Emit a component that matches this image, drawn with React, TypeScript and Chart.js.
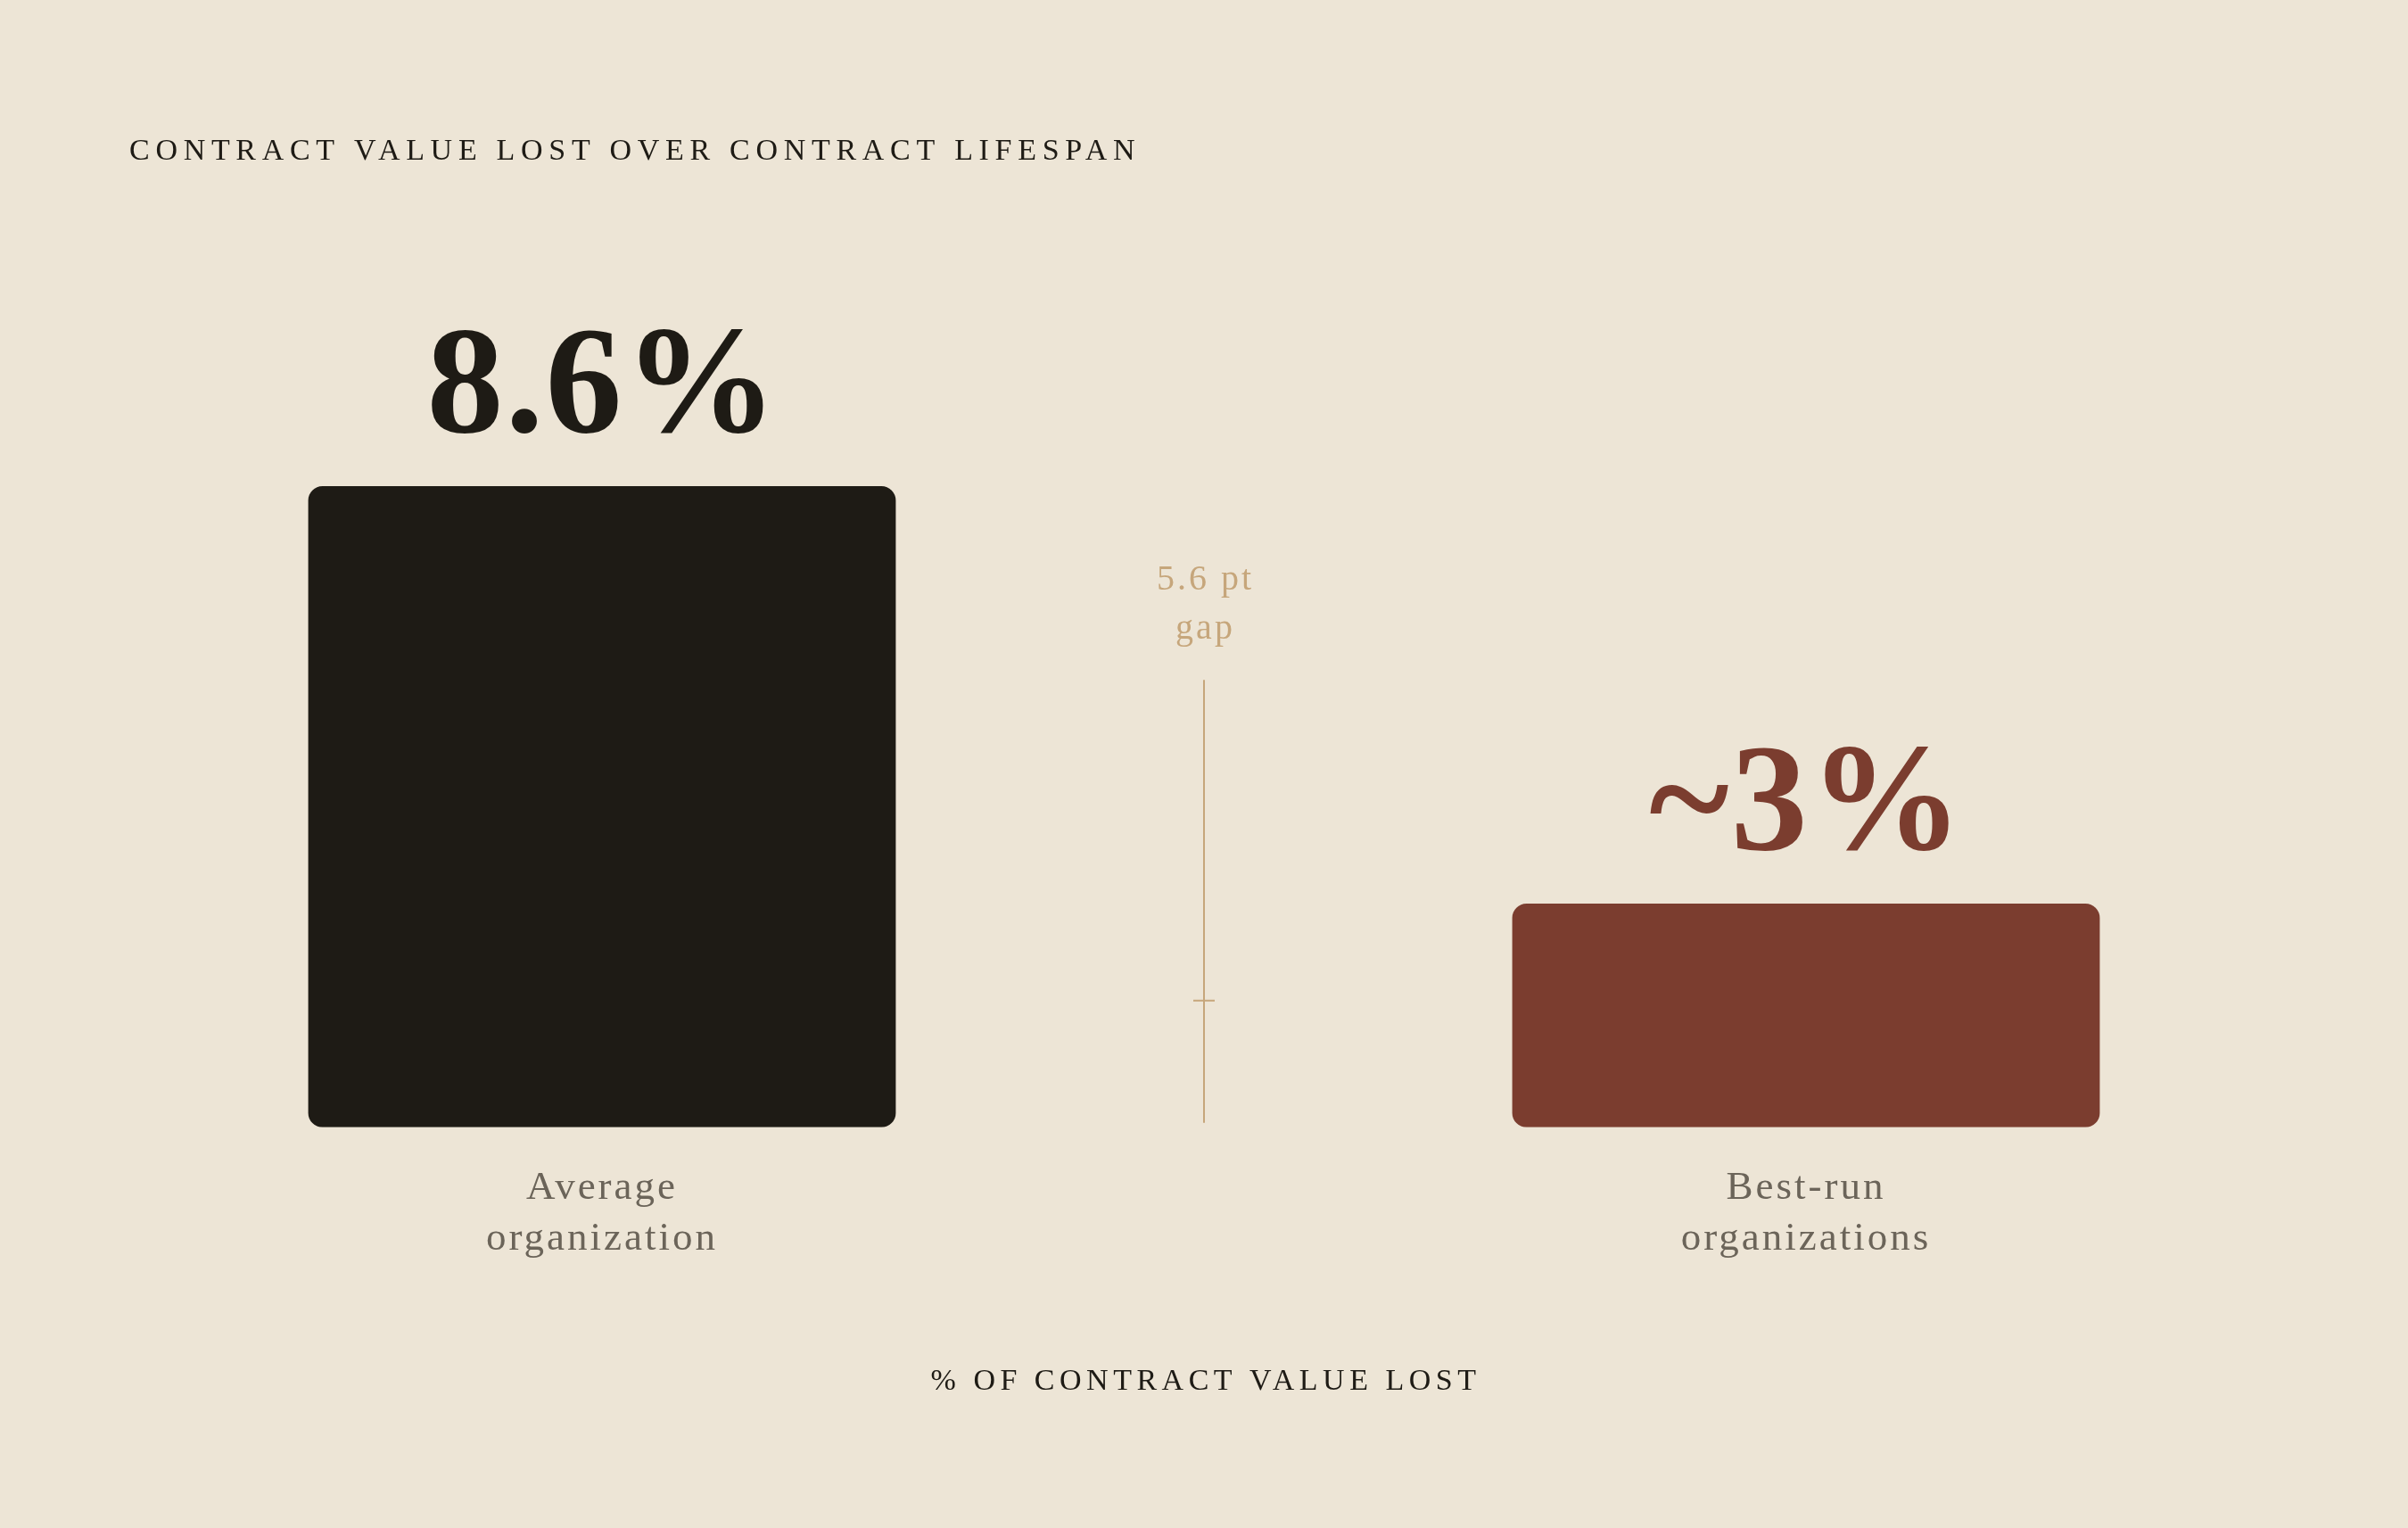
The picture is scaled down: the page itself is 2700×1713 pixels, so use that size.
import { useEffect, useRef } from 'react';
import { Chart, registerables } from 'chart.js';

Chart.register(...registerables);

// data
const categories = [
  ['Average', 'organization'],
  ['Best-run', 'organizations'],
];
const lossPct = [8.6, 3];
const valueLabels = ['8.6%', '~3%'];
const gapLabel = ['5.6 pt', 'gap'];
const gapRule = [6.0, 0.06]; // top / bottom of the gap rule, in % units
const gapTick = 1.7;
const yMax = 10;

const chartTitle = 'CONTRACT VALUE LOST OVER CONTRACT LIFESPAN';
const axisTitle = '% OF CONTRACT VALUE LOST';

// styles
const SERIF = '"Liberation Serif", "DejaVu Serif", serif';
const BG = '#ede5d6';
const INK = '#1e1b15';
const RUST = '#7b3d2f';
const TAN = '#c6a67b';
const MUTED = '#6b6459';
const barColors = [INK, RUST];

const decorPlugin = {
  id: 'decor',
  beforeDraw(chart: any) {
    const { ctx, width, height } = chart;
    ctx.save();
    ctx.fillStyle = BG;
    ctx.fillRect(0, 0, width, height);
    ctx.restore();
    // Lora-ish width for the category tick labels
    ctx.letterSpacing = '3px';
  },
  beforeDatasetsDraw(chart: any) {
    chart.ctx.letterSpacing = '0px';
  },
  afterDatasetsDraw(chart: any) {
    const { ctx, chartArea } = chart;
    const y = chart.scales.y;
    const bars = chart.getDatasetMeta(0).data;
    ctx.save();

    // value labels above bars
    ctx.textAlign = 'center';
    ctx.textBaseline = 'alphabetic';
    ctx.font = `bold 172px ${SERIF}`;
    ctx.letterSpacing = '2px';
    bars.forEach((bar: any, i: number) => {
      ctx.fillStyle = barColors[i];
      ctx.fillText(valueLabels[i], bar.x + 1, bar.y - 61);
    });

    // gap rule between the bars
    const gx = (bars[0].x + bars[1].x) / 2;
    ctx.strokeStyle = TAN;
    ctx.lineWidth = 2;
    ctx.beginPath();
    ctx.moveTo(gx, y.getPixelForValue(gapRule[0]));
    ctx.lineTo(gx, y.getPixelForValue(gapRule[1]));
    const ty = y.getPixelForValue(gapTick);
    ctx.moveTo(gx - 12, ty);
    ctx.lineTo(gx + 12, ty);
    ctx.stroke();

    ctx.fillStyle = TAN;
    ctx.font = `40px ${SERIF}`;
    ctx.letterSpacing = '3px';
    gapLabel.forEach((t, i) => {
      ctx.fillText(t, gx + 1.5, y.getPixelForValue(gapRule[0]) - 101 + i * 55);
    });

    // chart title
    ctx.fillStyle = INK;
    ctx.font = `34px ${SERIF}`;
    ctx.letterSpacing = '6.7px';
    ctx.textAlign = 'left';
    ctx.fillText(chartTitle, 145, 179);

    // axis title
    ctx.textAlign = 'center';
    ctx.letterSpacing = '5.5px';
    ctx.fillText(axisTitle, (chartArea.left + chartArea.right) / 2 + 2, 1558);

    ctx.restore();
  },
};

export default function App() {
  const canvasRef = useRef<HTMLCanvasElement | null>(null);

  useEffect(() => {
    if (!canvasRef.current) return;
    const ctx = canvasRef.current.getContext('2d');
    if (!ctx) return;

    const chart = new Chart(ctx, {
      type: 'bar',
      data: {
        labels: categories,
        datasets: [
          {
            data: lossPct,
            backgroundColor: barColors,
            borderRadius: 16,
            borderSkipped: false,
            barPercentage: 0.488,
            categoryPercentage: 1,
          },
        ],
      },
      options: {
        responsive: true,
        maintainAspectRatio: false,
        animation: false,
        layout: { padding: { top: 428, bottom: 255, left: 0, right: 0 } },
        plugins: {
          legend: { display: false },
          tooltip: { enabled: false },
          title: { display: false },
        },
        scales: {
          x: {
            grid: { display: false, drawTicks: false },
            border: { display: false },
            ticks: {
              color: MUTED,
              padding: 40,
              font: { family: SERIF, size: 45, lineHeight: 1.27 },
            },
          },
          y: {
            display: false,
            min: 0,
            max: yMax,
          },
        },
      },
      plugins: [decorPlugin],
    });

    return () => {
      chart.destroy();
    };
  }, []);

  return (
    <div style={{ position: 'fixed', left: 0, top: 0, width: '2700px', height: '1713px', background: BG }}>
      <canvas ref={canvasRef}></canvas>
    </div>
  );
}
